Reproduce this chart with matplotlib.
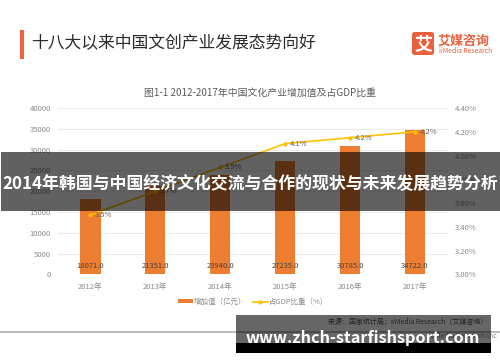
import matplotlib
matplotlib.use("Agg")
import matplotlib.pyplot as plt
from matplotlib.patches import Rectangle, FancyBboxPatch

plt.rcParams['font.family'] = ['Noto Sans CJK SC', 'DejaVu Sans']

W, H = 500, 362

years = ['2012年', '2013年', '2014年', '2015年', '2016年', '2017年']
added_value = [18071.0, 21351.0, 23940.0, 27235.0, 30785.0, 34722.0]
gdp_share = [3.5, 3.7, 3.9, 4.1, 4.15, 4.2]
gdp_labels = ['3.5%', '3.7%', '3.9%', '4.1%', '4.2%', '4.2%']
left_ticks = [0, 5000, 10000, 15000, 20000, 25000, 30000, 35000, 40000]
right_ticks = [3.0, 3.2, 3.4, 3.6, 3.8, 4.0, 4.2, 4.4]

BAR = '#ED7D31'
LINE = '#FFC000'
TICK = '#8a8a8a'


def px_rect(x0, y0, x1, y1, **kw):
    # rectangle in image pixels, y counted from the top
    r = Rectangle((x0 / W, 1 - y1 / H), (x1 - x0) / W, (y1 - y0) / H,
                  transform=fig.transFigure, linewidth=0, **kw)
    fig.add_artist(r)


def px_text(x, y, s, **kw):
    fig.text(x / W, 1 - y / H, s, va='center', **kw)


fig = plt.figure(figsize=(5, 3.62), dpi=100, facecolor='white')
ax = fig.add_axes([58 / W, 1 - 274.3 / H, 389.5 / W, 166.3 / H])
xs = list(range(len(years)))

ax.bar(xs, added_value, width=0.31, color=BAR, zorder=2, label='增加值（亿元）')
ax.set_xlim(-0.5, 5.5)
ax.set_ylim(0, 40000)
ax.set_yticks(left_ticks)
ax.set_xticks(xs, years)
ax.grid(axis='y', color='#ececec', linewidth=0.8, zorder=0)
ax.set_axisbelow(True)
ax.tick_params(length=0, labelsize=5.5, labelcolor=TICK)
ax.tick_params(axis='x', pad=6)
ax.tick_params(axis='y', pad=5)
for s in ax.spines.values():
    s.set_visible(False)

ax2 = ax.twinx()
ax2.plot(xs, gdp_share, color=LINE, linewidth=1.2, marker='o', markersize=2,
         zorder=3, label='占GDP比重（%）')
ax2.set_ylim(3.0, 4.4)
ax2.set_yticks(right_ticks, [f'{v:.2f}%' for v in right_ticks])
ax2.tick_params(length=0, labelsize=5.5, labelcolor=TICK, pad=5)
for s in ax2.spines.values():
    s.set_visible(False)

for x, v in zip(xs, added_value):
    ax.annotate(f'{v:.1f}', (x, 0), xytext=(0, 6), textcoords='offset points',
                ha='center', va='center', fontsize=5.5, color='#444444', zorder=4)
for x, v, t in zip(xs, gdp_share, gdp_labels):
    ax2.annotate(t, (x, v), xytext=(9.5, 0), textcoords='offset points',
                 ha='center', va='center', fontsize=5.5, color='#666666', zorder=4)

h1, l1 = ax.get_legend_handles_labels()
h2, l2 = ax2.get_legend_handles_labels()
ax2.legend(h1 + h2, l1 + l2, ncol=2, frameon=False, fontsize=5.4, labelcolor=TICK,
           loc='center', bbox_to_anchor=(253 / W, 1 - 302 / H),
           bbox_transform=fig.transFigure, handlelength=2.0, handleheight=0.5,
           columnspacing=0.8, handletextpad=0.2)

# header
px_rect(20, 30, 24, 59, color='#F0633A')
px_text(31, 43.5, '十八大以来中国文创产业发展态势向好', fontsize=12.1, color='#2b2b2b')
fig.add_artist(FancyBboxPatch((412 / W, 1 - 55 / H), 22 / W, 23 / H,
                              boxstyle='round,pad=0,rounding_size=0.006',
                              transform=fig.transFigure, color='#E8613C', linewidth=0))
px_text(423, 43.5, '艾', fontsize=13, color='white', ha='center', fontweight='bold')
px_text(438, 41, '艾媒咨询', fontsize=9.4, color='#E8613C', fontweight='bold')
px_text(439, 51, 'iiMedia Research', fontsize=4.9, color='#E8613C')
px_text(260.5, 93, '图1-1 2012-2017年中国文化产业增加值及占GDP比重', fontsize=7.1,
        color='#5c5c5c', ha='center')

# footer
px_rect(0, 331, 500, 333, color='#bcbcbc')
px_text(497, 336.5, 'iiMedia Research Inc', fontsize=5, color='#888888', ha='right')

# overlays
px_rect(1, 152, 500, 211, color='black', alpha=0.62, zorder=10)
px_text(250.5, 184, '2014年韩国与中国经济文化交流与合作的现状与未来发展趋势分析',
        fontsize=12.2, color='white', fontweight='bold', ha='center', zorder=11)
px_rect(236, 315, 491, 343, color='black', alpha=0.6, zorder=10)
px_rect(236, 343, 491, 353, color='black', zorder=10)
px_text(487, 321, '来源：国家统计局；iiMedia Research（艾媒咨询）', fontsize=5,
        color='#222222', ha='right', zorder=11)
px_text(363, 337.5, 'www.zhch-starfishsport.com', fontsize=11.7, color='white',
        fontweight='bold', ha='center', zorder=11)

fig.savefig('out.png', dpi=100)
